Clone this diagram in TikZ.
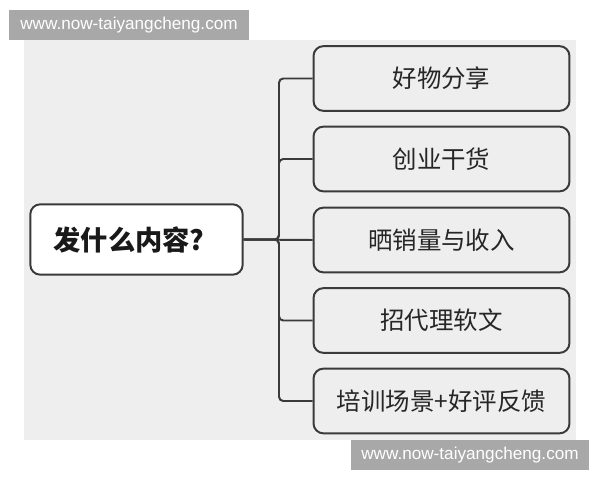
\documentclass[tikz,border=0pt]{standalone}
\usepackage{fontspec}
\setmainfont{Liberation Sans}
\newfontfamily\cjk{Noto Sans CJK SC}
\usetikzlibrary{positioning}
\definecolor{panelgray}{HTML}{EEEEEE}
\definecolor{markgray}{HTML}{A8A8A8}
\definecolor{linegray}{HTML}{3A3A3A}
\tikzset{
	kid/.style={draw=linegray, line width=1.4pt, rounded corners=7pt, fill=panelgray,
		minimum width=182pt, minimum height=46pt, font=\cjk\fontsize{17.4}{20}\selectfont, text=black!85},
	rootbox/.style={draw=linegray, line width=1.4pt, rounded corners=7pt, fill=white,
		minimum width=151pt, minimum height=50pt},
	branch/.style={draw=linegray, line width=1.4pt, rounded corners=3pt},
	markbox/.style={fill=markgray},
	marktext/.style={text=white, font=\fontsize{12.2}{14}\selectfont, inner sep=0pt}
}

\begin{document}
\begin{tikzpicture}[x=0.025cm, y=-0.025cm]
		%%%%% START %%%%%
		\useasboundingbox (0, 0) rectangle (600, 480);
		\fill[white] (0, 0) rectangle (600, 480);
		\fill[panelgray] (24, 40) rectangle (576, 440);
		
		\fill[markbox] (9, 10) rectangle (249, 40);
		\node[marktext] (wmtop) at (129, 25) {www.now-taiyangcheng.com};
		
		\node[rootbox] (root) at (136.5, 239.5) {};
		\node[font=\cjk\bfseries\fontsize{19.4}{22}\selectfont, text=black!90] (roottext) at (129, 239.5) {发什么内容?};
		
		\node[kid] (k1) at (441.5, 78.5) {好物分享};
		\node[kid] (k2) at (441.5, 159) {创业干货};
		\node[kid] (k3) at (441.5, 240) {晒销量与收入};
		\node[kid] (k4) at (441.5, 320.5) {招代理软文};
		\node[kid] (k5) at (441.5, 401) {培训场景+好评反馈};
		
		\coordinate (hub) at (279, 239.5);
		\draw[branch] (root.east) -- (hub) |- (k1.west);
		\draw[branch] (root.east) -- (hub) |- (k2.west);
		\draw[branch] (root.east) -- (k3.west);
		\draw[branch] (root.east) -- (hub) |- (k4.west);
		\draw[branch] (root.east) -- (hub) |- (k5.west);
		
		\fill[markbox] (351, 440) rectangle (589, 470);
		\node[marktext] (wmbottom) at (470, 455) {www.now-taiyangcheng.com};
		%%%%% END %%%%%
\end{tikzpicture}
\end{document}
